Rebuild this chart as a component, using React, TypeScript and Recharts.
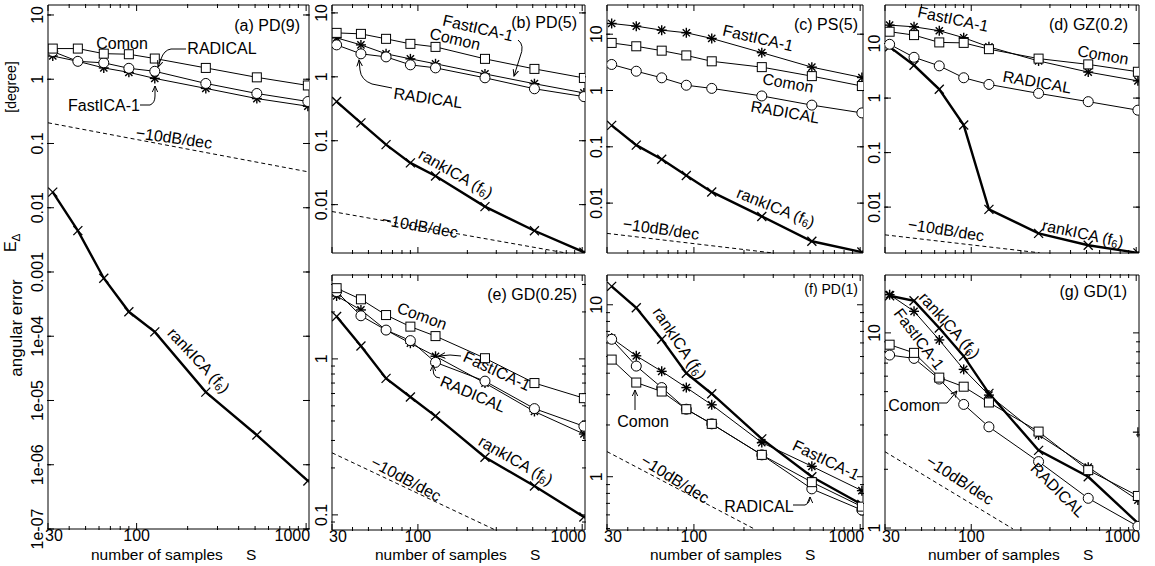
import React from 'react';
import { LineChart, Line, XAxis, YAxis } from 'recharts';

const FONT = '"Liberation Sans", Arial, Helvetica, sans-serif';

// sample sizes S
const samples = [32, 45, 64, 90, 128, 256, 512, 1024];
const xTicks = [30, 100, 1000];
const xMinorTicks = [40, 50, 60, 70, 80, 90, 200, 300, 400, 500, 600, 700, 800, 900];
const xDomain = [30, 1040];

// (a) PD(9)
const pd9Comon = [3.0, 3.0, 2.5, 2.45, 2.1, 1.5, 1.07, 0.8];
const pd9Radical = [2.7, 1.9, 1.8, 1.48, 1.33, 0.86, 0.6, 0.45];
const pd9FastIca = [2.3, 1.9, 1.5, 1.28, 1.03, 0.72, 0.5, 0.38];
const pd9Rank = [0.0175, 0.0044, 0.0008, 0.00024, 0.000117, 1.35e-5, 2.9e-6, 5.6e-7];
const pd9Slope = [0.21, 0.036];
const pd9SlopeX = [30, 1040];

// (b) PD(5)
const pd5Comon = [4.87, 4.7, 3.93, 3.28, 2.94, 1.91, 1.33, 0.96];
const pd5FastIca = [4.07, 3.16, 2.29, 1.91, 1.6, 1.11, 0.78, 0.56];
const pd5Radical = [3.16, 2.29, 2.05, 1.54, 1.38, 0.965, 0.65, 0.49];
const pd5Rank = [0.41, 0.19, 0.087, 0.045, 0.028, 0.0093, 0.0039, 0.0018];
const pd5Slope = [0.0078, 0.00155];
const pd5SlopeX = [30, 1040];

// (c) PS(5)
const ps5Comon = [7.0, 6.1, 5.1, 4.2, 3.3, 2.6, 1.8, 1.2];
const ps5FastIca = [15.5, 13.9, 11.8, 10.6, 8.4, 4.7, 2.6, 1.7];
const ps5Radical = [2.9, 2.2, 1.68, 1.24, 1.09, 0.8, 0.55, 0.4];
const ps5Rank = [0.24, 0.107, 0.06, 0.031, 0.0158, 0.0058, 0.0021, 0.00135];
const ps5Slope = [0.0029, 0.0013];
const ps5SlopeX = [30, 300];

// (d) GZ(0.2)
const gzComon = [16.5, 14.3, 10.5, 10.3, 7.9, 5.3, 4.15, 3.04];
const gzFastIca = [21.8, 20.3, 17.2, 12.8, 8.7, 4.8, 3.0, 2.07];
const gzRadical = [9.7, 5.6, 3.9, 2.36, 1.78, 1.22, 0.86, 0.6];
const gzRank = [8.7, 4.0, 1.45, 0.32, 0.0091, 0.0033, 0.002, 0.00145];
const gzSlope = [0.0031, 0.00145];
const gzSlopeX = [30, 260];

// (e) GD(0.25)
const gd025Comon = [2.84, 2.41, 1.91, 1.61, 1.4, 1.01, 0.7, 0.56];
const gd025FastIca = [2.53, 2.06, 1.53, 1.26, 1.04, 0.7, 0.46, 0.33];
const gd025Radical = [2.7, 1.89, 1.53, 1.31, 0.95, 0.72, 0.48, 0.37];
const gd025Rank = [1.87, 1.21, 0.75, 0.57, 0.43, 0.234, 0.153, 0.097];
const gd025Slope = [0.25, 0.08];
const gd025SlopeX = [30, 296];

// (f) PD(1)
const pd1Comon = [4.8, 3.53, 3.13, 2.47, 2.03, 1.34, 0.93, 0.67];
const pd1FastIca = [6.4, 5.05, 4.1, 3.3, 2.62, 1.58, 1.15, 0.83];
const pd1Radical = [6.3, 4.4, 3.3, 2.47, 2.03, 1.34, 0.85, 0.64];
const pd1Rank = [12.8, 9.6, 6.3, 4.0, 3.04, 1.66, 1.0, 0.69];
const pd1Slope = [1.4, 0.5];
const pd1SlopeX = [30, 228];

// (g) GD(1)
const gd1Comon = [8.7, 7.9, 5.9, 5.3, 4.4, 3.12, 1.98, 1.46];
const gd1FastIca = [15.7, 12.9, 9.2, 6.5, 4.8, 3.0, 2.05, 1.39];
const gd1Radical = [7.7, 7.4, 5.8, 4.3, 3.3, 2.19, 1.42, 1.02];
const gd1Rank = [15.5, 14.6, 10.6, 7.6, 4.9, 2.5, 1.83, 1.06];
const gd1Slope = [2.46, 0.99];
const gd1SlopeX = [30, 179];
const gd1StrayX = [1024];
const gd1StrayY = [3.1];

// y tick values and their labels
const pd9YTicks = [1e-7, 1e-6, 1e-5, 1e-4, 0.001, 0.01, 0.1, 1, 10];
const pd9YLabels = ['1e-07', '1e-06', '1e-05', '1e-04', '0.001', '0.01', '0.1', '1', '10'];
const topYTicks = [0.01, 0.1, 1, 10];
const topYLabels = ['0.01', '0.1', '1', '10'];
const gd025YTicks = [0.1, 1];
const gd025YLabels = ['0.1', '1'];
const pd1YTicks = [1, 10];
const pd1YLabels = ['1', '10'];
const gd025YMinor = [0.09, 0.2, 0.3, 0.4, 0.5, 0.6, 0.7, 0.8, 0.9, 2, 3];
const pd1YMinor = [0.5, 0.6, 0.7, 0.8, 0.9, 2, 3, 4, 5, 6, 7, 8, 9];
const gd1YMinor = [2, 3, 4, 5, 6, 7, 8, 9];

const pts = (ys: number[]) => samples.map((x, i) => ({ x, y: ys[i] }));
const pairs = (xs: number[], ys: number[]) => xs.map((x, i) => ({ x, y: ys[i] }));

const Square = (p: any) => (
  <rect key={p.index} x={p.cx - 4.5} y={p.cy - 4.5} width={9} height={9} fill="#fff" stroke="#000" strokeWidth={1} />
);
const Ring = (p: any) => <circle key={p.index} cx={p.cx} cy={p.cy} r={5} fill="#fff" stroke="#000" strokeWidth={1} />;
const Star = (p: any) => {
  const s = 5;
  const d = 3.6;
  return (
    <g key={p.index} stroke="#000" strokeWidth={1.4}>
      <line x1={p.cx - s} y1={p.cy} x2={p.cx + s} y2={p.cy} />
      <line x1={p.cx} y1={p.cy - s} x2={p.cx} y2={p.cy + s} />
      <line x1={p.cx - d} y1={p.cy - d} x2={p.cx + d} y2={p.cy + d} />
      <line x1={p.cx - d} y1={p.cy + d} x2={p.cx + d} y2={p.cy - d} />
    </g>
  );
};
const Cross = (p: any) => {
  const d = 4.5;
  return (
    <g key={p.index} stroke="#000" strokeWidth={1.3}>
      <line x1={p.cx - d} y1={p.cy - d} x2={p.cx + d} y2={p.cy + d} />
      <line x1={p.cx - d} y1={p.cy + d} x2={p.cx + d} y2={p.cy - d} />
    </g>
  );
};
const Plus = (p: any) => (
  <g key={p.index} stroke="#000" strokeWidth={1.2}>
    <line x1={p.cx - 5} y1={p.cy} x2={p.cx + 5} y2={p.cy} />
    <line x1={p.cx} y1={p.cy - 5} x2={p.cx} y2={p.cy + 5} />
  </g>
);

const EmptyTick = () => <g />;

const XTick = (p: any) => {
  const v = p.payload.value;
  const anchor = v === 30 ? 'start' : v === 1000 ? 'end' : 'middle';
  const dx = v === 30 ? -3 : v === 1000 ? 4 : 0;
  return (
    <text x={p.x + dx} y={p.y} textAnchor={anchor} fontSize={16} fontFamily={FONT} fill="#000">
      {v}
    </text>
  );
};

const makeYTick = (ticks: number[], labels: string[]) => (p: any) => {
  const i = ticks.indexOf(p.payload.value);
  return (
    <text
      transform={`translate(${p.x},${p.y}) rotate(-90)`}
      textAnchor="middle"
      fontSize={16}
      fontFamily={FONT}
      fill="#000"
    >
      {i >= 0 ? labels[i] : ''}
    </text>
  );
};

type PanelDef = {
  box: number[];
  yDomain: number[];
  yTicks: number[];
  yLabels: string[];
  yMinor: number[];
  xLabels: boolean;
  comon: number[];
  radical: number[];
  fastica: number[];
  rank: number[];
  slopeX: number[];
  slopeY: number[];
  strayX?: number[];
  strayY?: number[];
};

const panels: PanelDef[] = [
  { box: [48, 5, 309, 529], yDomain: [1e-7, 14.3], yTicks: pd9YTicks, yLabels: pd9YLabels, yMinor: [], xLabels: true,
    comon: pd9Comon, radical: pd9Radical, fastica: pd9FastIca, rank: pd9Rank, slopeX: pd9SlopeX, slopeY: pd9Slope },
  { box: [332, 5, 585, 253], yDomain: [0.00175, 13.3], yTicks: topYTicks, yLabels: topYLabels, yMinor: [], xLabels: false,
    comon: pd5Comon, radical: pd5Radical, fastica: pd5FastIca, rank: pd5Rank, slopeX: pd5SlopeX, slopeY: pd5Slope },
  { box: [607, 5, 863, 253], yDomain: [0.0013, 33], yTicks: topYTicks, yLabels: topYLabels, yMinor: [], xLabels: false,
    comon: ps5Comon, radical: ps5Radical, fastica: ps5FastIca, rank: ps5Rank, slopeX: ps5SlopeX, slopeY: ps5Slope },
  { box: [885, 5, 1139, 253], yDomain: [0.00144, 51], yTicks: topYTicks, yLabels: topYLabels, yMinor: [], xLabels: false,
    comon: gzComon, radical: gzRadical, fastica: gzFastIca, rank: gzRank, slopeX: gzSlopeX, slopeY: gzSlope },
  { box: [332, 275, 585, 530], yDomain: [0.08, 3.45], yTicks: gd025YTicks, yLabels: gd025YLabels, yMinor: gd025YMinor, xLabels: true,
    comon: gd025Comon, radical: gd025Radical, fastica: gd025FastIca, rank: gd025Rank, slopeX: gd025SlopeX, slopeY: gd025Slope },
  { box: [607, 275, 863, 530], yDomain: [0.49, 14.9], yTicks: pd1YTicks, yLabels: pd1YLabels, yMinor: pd1YMinor, xLabels: true,
    comon: pd1Comon, radical: pd1Radical, fastica: pd1FastIca, rank: pd1Rank, slopeX: pd1SlopeX, slopeY: pd1Slope },
  { box: [885, 275, 1139, 530], yDomain: [0.977, 19.8], yTicks: pd1YTicks, yLabels: pd1YLabels, yMinor: gd1YMinor, xLabels: true,
    comon: gd1Comon, radical: gd1Radical, fastica: gd1FastIca, rank: gd1Rank, slopeX: gd1SlopeX, slopeY: gd1Slope,
    strayX: gd1StrayX, strayY: gd1StrayY },
];

const PAD = 40;
const axisStroke = { stroke: '#000', strokeWidth: 1 };

function Panel({ p }: { p: PanelDef }) {
  const [x0, y0, x1, y1] = p.box;
  const w = x1 - x0;
  const h = y1 - y0;
  // two 1px axes per side: the major one sits on the frame, the minor one just outside it
  const m = PAD - 2;
  const common = { type: 'number' as const, dataKey: 'x', scale: 'log' as const, domain: xDomain, allowDataOverflow: true, interval: 0 as const, height: 1 };
  const ycommon = { type: 'number' as const, scale: 'log' as const, domain: p.yDomain, allowDataOverflow: true, interval: 0 as const, width: 1 };
  const line = { xAxisId: 'b', yAxisId: 'l', dataKey: 'y', stroke: '#000', isAnimationActive: false, type: 'linear' as const };
  const yMinor = p.yMinor.length ? p.yMinor : p.yTicks;
  return (
    <div style={{ position: 'absolute', left: x0 - PAD, top: y0 - PAD }}>
      <LineChart width={w + 2 * PAD} height={h + 2 * PAD} margin={{ top: m, right: m, bottom: m, left: m }}>
        <XAxis {...common} xAxisId="b" ticks={xTicks} tickSize={-6} tickMargin={18} axisLine={axisStroke} tickLine={axisStroke}
          tick={p.xLabels ? XTick : EmptyTick} />
        <XAxis {...common} xAxisId="bm" ticks={xMinorTicks} tickSize={-4} axisLine={false} tickLine={axisStroke} tick={EmptyTick} />
        <XAxis {...common} xAxisId="t" orientation="top" ticks={xTicks} tickSize={-6} axisLine={axisStroke} tickLine={axisStroke} tick={EmptyTick} />
        <XAxis {...common} xAxisId="tm" orientation="top" ticks={xMinorTicks} tickSize={-4} axisLine={false} tickLine={axisStroke} tick={EmptyTick} />
        <YAxis {...ycommon} yAxisId="l" ticks={p.yTicks} tickSize={-6} tickMargin={11} axisLine={axisStroke} tickLine={axisStroke}
          tick={makeYTick(p.yTicks, p.yLabels)} />
        <YAxis {...ycommon} yAxisId="lm" ticks={yMinor} tickSize={-4} axisLine={false} tickLine={axisStroke} tick={EmptyTick} />
        <YAxis {...ycommon} yAxisId="r" orientation="right" ticks={p.yTicks} tickSize={-6} axisLine={axisStroke} tickLine={axisStroke} tick={EmptyTick} />
        <YAxis {...ycommon} yAxisId="rm" orientation="right" ticks={yMinor} tickSize={-4} axisLine={false} tickLine={axisStroke} tick={EmptyTick} />
        <Line {...line} data={pairs(p.slopeX, p.slopeY)} strokeWidth={1} strokeDasharray="4 3" dot={false} />
        <Line {...line} data={pts(p.rank)} strokeWidth={2.4} dot={Cross} />
        <Line {...line} data={pts(p.fastica)} strokeWidth={1} dot={Star} />
        <Line {...line} data={pts(p.radical)} strokeWidth={1} dot={Ring} />
        <Line {...line} data={pts(p.comon)} strokeWidth={1} dot={Square} />
        {p.strayX && p.strayY ? (
          <Line {...line} data={pairs(p.strayX, p.strayY)} stroke="none" dot={Plus} />
        ) : null}
      </LineChart>
    </div>
  );
}

type Note = { t: string; x: number; y: number; r?: number; rank?: boolean };

const notes: Note[] = [
  { t: 'Comon', x: 122, y: 43 },
  { t: 'RADICAL', x: 222, y: 48 },
  { t: 'FastICA-1', x: 104, y: 105 },
  { t: '\u221210dB/dec', x: 174, y: 138, r: 8 },
  { t: '', x: 199, y: 360, r: 47, rank: true },

  { t: 'FastICA-1', x: 478, y: 28, r: 13 },
  { t: 'Comon', x: 455, y: 39, r: 13 },
  { t: 'RADICAL', x: 428, y: 98, r: 8 },
  { t: '', x: 456, y: 173, r: 30, rank: true },
  { t: '\u221210dB/dec', x: 420, y: 226, r: 10 },

  { t: 'FastICA-1', x: 758, y: 38, r: 13 },
  { t: 'Comon', x: 788, y: 83, r: 10 },
  { t: 'RADICAL', x: 785, y: 112, r: 10 },
  { t: '', x: 776, y: 207, r: 22, rank: true },
  { t: '\u221210dB/dec', x: 661, y: 229, r: 8 },

  { t: 'FastICA-1', x: 953, y: 19, r: 12 },
  { t: 'Comon', x: 1103, y: 55, r: 10 },
  { t: 'RADICAL', x: 1037, y: 82, r: 10 },
  { t: '', x: 1083, y: 233, r: 12, rank: true },
  { t: '\u221210dB/dec', x: 946, y: 230, r: 9 },

  { t: 'Comon', x: 422, y: 316, r: 20 },
  { t: 'FastICA-1', x: 497, y: 371, r: 25 },
  { t: 'RADICAL', x: 473, y: 394, r: 23 },
  { t: '', x: 516, y: 460, r: 30, rank: true },
  { t: '\u221210dB/dec', x: 406, y: 479, r: 28 },

  { t: '', x: 680, y: 343, r: 56, rank: true },
  { t: 'Comon', x: 643, y: 421 },
  { t: 'FastICA-1', x: 826, y: 460, r: 26 },
  { t: 'RADICAL', x: 759, y: 506 },
  { t: '\u221210dB/dec', x: 675, y: 479, r: 32 },

  { t: '', x: 950, y: 325, r: 48, rank: true },
  { t: 'FastICA-1', x: 919, y: 339, r: 53 },
  { t: 'Comon', x: 914, y: 405 },
  { t: 'RADICAL', x: 1058, y: 490, r: 45 },
  { t: '\u221210dB/dec', x: 960, y: 480, r: 33 },
];

const titles = [
  { t: '(a) PD(9)', x: 300, y: 31, s: 16 },
  { t: '(b) PD(5)', x: 577, y: 28, s: 16 },
  { t: '(c) PS(5)', x: 858, y: 30, s: 16 },
  { t: '(d) GZ(0.2)', x: 1128, y: 30, s: 16 },
  { t: '(e) GD(0.25)', x: 577, y: 300, s: 16 },
  { t: '(f) PD(1)', x: 858, y: 294, s: 14 },
  { t: '(g) GD(1)', x: 1127, y: 297, s: 16 },
];

const arrows = [
  'M186 49 L171 49 Q164 50 161 59 L158 67',
  'M140 105 L150 105 Q155 103 155 96 L155 86',
  'M518 40 Q525 45 520 57 L514 76',
  'M392 88 L372 84 Q361 80 360 70 L359 60',
  'M461 356 L450 355 L439 356',
  'M440 378 L436 377 Q433 375 433 369 L433 365',
  'M635 410 L635 390',
  'M793 505 L805 505 Q810 503 810 497',
  'M939 403 L947 403 L957 391',
];

const xLabelPanels = [48, 332, 607, 885];

function Overlay() {
  return (
    <svg width={1155} height={566} style={{ position: 'absolute', left: 0, top: 0, pointerEvents: 'none' }} fontFamily={FONT}>
      <defs>
        <marker id="ah" viewBox="0 0 10 10" refX="9" refY="5" markerWidth="7" markerHeight="7" orient="auto">
          <path d="M0,1 L9,5 L0,9" fill="none" stroke="#000" strokeWidth={1.4} />
        </marker>
      </defs>
      {arrows.map((d, i) => (
        <path key={i} d={d} fill="none" stroke="#000" strokeWidth={1} markerEnd="url(#ah)" />
      ))}
      {notes.map((n, i) => (
        <text
          key={i}
          transform={`translate(${n.x},${n.y}) rotate(${n.r || 0})`}
          textAnchor="middle"
          dominantBaseline="central"
          fontSize={16}
          fill="#000"
        >
          {n.rank ? (
            <>
              <tspan>rankICA (f</tspan>
              <tspan fontSize={11} dy={4}>6</tspan>
              <tspan dy={-4}>)</tspan>
            </>
          ) : (
            n.t
          )}
        </text>
      ))}
      {titles.map((t, i) => (
        <text key={i} x={t.x} y={t.y} textAnchor="end" fontSize={t.s} fill="#000">
          {t.t}
        </text>
      ))}
      {xLabelPanels.map((x, i) => (
        <g key={i} fontSize={15.5} fill="#000">
          <text x={x + 43} y={560}>number of samples</text>
          <text x={x + 198} y={560}>S</text>
        </g>
      ))}
      <text transform="translate(16,87) rotate(-90)" textAnchor="middle" fontSize={14} fill="#000">[degree]</text>
      <text transform="translate(16,243) rotate(-90)" textAnchor="middle" fontSize={16} fill="#000">
        E<tspan fontSize={12} dy={4}>{'\u2206'}</tspan>
      </text>
      <text transform="translate(22,328) rotate(-90)" textAnchor="middle" fontSize={17} fill="#000">angular error</text>
    </svg>
  );
}

export default function App() {
  return (
    <div style={{ position: 'absolute', left: 0, top: 0, width: 1155, height: 566, overflow: 'hidden', background: '#fff' }}>
      {panels.map((p, i) => (
        <Panel key={i} p={p} />
      ))}
      <Overlay />
    </div>
  );
}
